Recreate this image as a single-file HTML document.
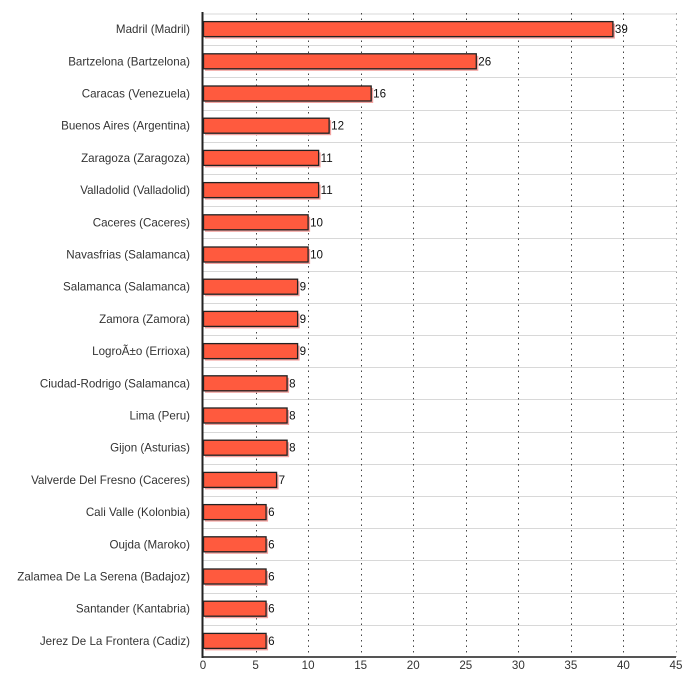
<!DOCTYPE html>
<html><head><meta charset="utf-8"><style>
html,body{margin:0;padding:0;background:#fff;}
svg{display:block;}
text{font-family:"Liberation Sans",Arial,sans-serif;}
</style></head><body>
<svg width="700" height="700" viewBox="0 0 700 700" xmlns="http://www.w3.org/2000/svg">
<rect width="700" height="700" fill="#fff"/>
<g id="rows"></g>
<script>
(function(){
var ns="http://www.w3.org/2000/svg";
var svg=document.querySelector('svg');
var data=[["Madril (Madril)",39],["Bartzelona (Bartzelona)",26],["Caracas (Venezuela)",16],["Buenos Aires (Argentina)",12],["Zaragoza (Zaragoza)",11],["Valladolid (Valladolid)",11],["Caceres (Caceres)",10],["Navasfrias (Salamanca)",10],["Salamanca (Salamanca)",9],["Zamora (Zamora)",9],["LogroÃ±o (Errioxa)",9],["Ciudad-Rodrigo (Salamanca)",8],["Lima (Peru)",8],["Gijon (Asturias)",8],["Valverde Del Fresno (Caceres)",7],["Cali Valle (Kolonbia)",6],["Oujda (Maroko)",6],["Zalamea De La Serena (Badajoz)",6],["Santander (Kantabria)",6],["Jerez De La Frontera (Cadiz)",6]];
var x0=203,x1=676,top=13,bot=657,rh=(bot-top)/20,sc=(x1-x0)/45;
function el(t,a,txt){var e=document.createElementNS(ns,t);for(var k in a)e.setAttribute(k,a[k]);if(txt!==undefined)e.textContent=txt;svg.appendChild(e);return e;}
el('line',{x1:x0,y1:top+1,x2:x1,y2:top+1,stroke:'#ececec','stroke-width':2});
for(var i=1;i<20;i++){var y=Math.round(top+i*rh)+0.5;el('line',{x1:x0,y1:y,x2:x1,y2:y,stroke:'#d8d8d8','stroke-width':1});}
for(var k=1;k<=9;k++){var x=Math.round(x0+k*5*sc)+0.5;el('line',{x1:x,y1:top,x2:x,y2:bot,stroke:k==9?'#999':'#444','stroke-width':1,'stroke-dasharray':'1.5 4'});}
for(var i=0;i<20;i++){
 var c=top+(i+0.5)*rh, by=c-7.5, w=data[i][1]*sc;
 el('rect',{x:x0+2,y:by+2,width:w,height:15,fill:'#f2a3a0'});
 el('rect',{x:x0+0.5,y:by,width:w-0.5,height:15,fill:'#ff5a3e',stroke:'#222','stroke-width':1.3});
 el('text',{x:190,y:c+4,'text-anchor':'end','font-size':'11.6',fill:'#333'},data[i][0]);
 el('text',{x:x0+w+2,y:c+4,'font-size':'11.6',fill:'#111'},String(data[i][1]));
}
el('line',{x1:x0-1,y1:bot,x2:x1,y2:bot,stroke:'#555','stroke-width':2});
el('line',{x1:x0-0.5,y1:top-1,x2:x0-0.5,y2:bot+1,stroke:'#222','stroke-width':2});
for(var k=0;k<=9;k++){el('text',{x:x0+k*5*sc,y:669,'text-anchor':'middle','font-size':'11.6',fill:'#333'},String(k*5));}
})();
</script>
</svg>
</body></html>
